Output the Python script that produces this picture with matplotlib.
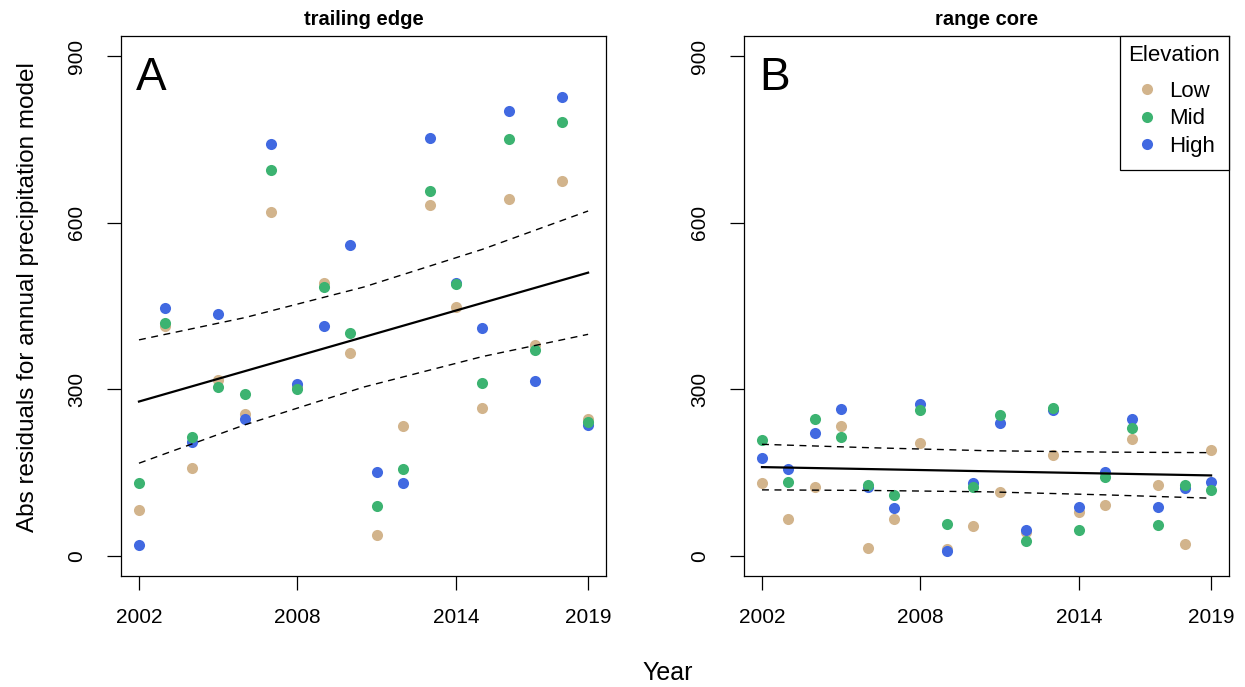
import numpy as np
import matplotlib
matplotlib.use("Agg")
import matplotlib.pyplot as plt
from matplotlib.lines import Line2D

plt.rcParams['font.family'] = ['Liberation Sans', 'DejaVu Sans']

years = np.arange(2002, 2020)

# abs residuals, trailing edge sites
te_low = [82, 414, 159, 316, 255, 619, 305, 492, 366, 38, 234, 632, 448, 266, 642, 379, 675, 246]
te_mid = [131, 420, 214, 304, 292, 695, 300, 484, 401, 90, 157, 657, 490, 312, 751, 370, 782, 241]
te_high = [20, 446, 205, 436, 246, 742, 310, 414, 559, 152, 131, 752, 491, 410, 801, 315, 827, 235]

# abs residuals, range core sites
rc_low = [132, 66, 124, 234, 15, 67, 204, 12, 54, 116, 44, 181, 79, 92, 210, 127, 22, 190]
rc_mid = [208, 133, 247, 215, 127, 110, 262, 58, 124, 254, 27, 266, 47, 142, 231, 55, 127, 119]
rc_high = [177, 157, 222, 265, 124, 87, 274, 9, 131, 239, 47, 263, 88, 152, 246, 88, 122, 133]

# fitted trend and 95% band
fit_years = [2002, 2006, 2010.5, 2015, 2019]
te_fit = [278, 332.6, 394, 455.5, 510]
te_hi = [389, 429, 484, 552, 621]
te_lo = [167, 236, 304, 359, 399]
rc_fit = [160, 156.5, 152.5, 148.5, 145]
rc_hi = [201, 195, 189.5, 187, 186]
rc_lo = [119, 118, 115.5, 110, 104]

col_low = '#D2B48C'
col_mid = '#3CB371'
col_high = '#4169E1'

fig = plt.figure(figsize=(12.45, 6.87), dpi=100)
ax1 = fig.add_axes([0.0972, 0.1616, 0.3896, 0.786])
ax2 = fig.add_axes([0.5976, 0.1616, 0.3896, 0.786])


def panel(ax, low, mid, high, fit, lo, hi, title, letter):
    ms = 8
    ax.plot(years, low, 'o', color=col_low, ms=ms, mec='none', zorder=3)
    ax.plot(years, high, 'o', color=col_high, ms=ms, mec='none', zorder=3)
    ax.plot(years, mid, 'o', color=col_mid, ms=ms, mec='none', zorder=3)
    ax.plot(fit_years, fit, color='black', lw=1.6, zorder=4)
    ax.plot(fit_years, hi, color='black', lw=1.0, ls=(0, (5, 4)), zorder=4)
    ax.plot(fit_years, lo, color='black', lw=1.0, ls=(0, (5, 4)), zorder=4)
    ax.set_xlim(2001.32, 2019.68)
    ax.set_ylim(-36, 936)
    ax.set_xticks([2002, 2008, 2014, 2019])
    ax.set_yticks([0, 300, 600, 900])
    ax.tick_params(direction='out', length=10, width=0.9, labelsize=15, pad=13)
    ax.tick_params(axis='y', labelrotation=90, pad=15)
    for t in ax.get_yticklabels():
        t.set_va('center')
    for s in ax.spines.values():
        s.set_linewidth(0.9)
    ax.set_title(title, fontsize=14.5, fontweight='bold', pad=8)
    ax.text(0.031, 0.9, letter, transform=ax.transAxes, fontsize=33,
            ha='left', va='baseline')


panel(ax1, te_low, te_mid, te_high, te_fit, te_lo, te_hi, 'trailing edge', 'A')
panel(ax2, rc_low, rc_mid, rc_high, rc_fit, rc_lo, rc_hi, 'range core', 'B')

handles = [Line2D([], [], ls='none', marker='o', color=c, ms=8, mec='none')
           for c in (col_low, col_mid, col_high)]
leg = ax2.legend(handles, ['Low', 'Mid', 'High'], title='Elevation',
                 loc='upper right', borderaxespad=0, fancybox=False,
                 edgecolor='black', framealpha=1, fontsize=16, title_fontsize=16,
                 labelspacing=0.28, handletextpad=0.4, handlelength=1.2,
                 borderpad=0.4)
leg.get_frame().set_linewidth(0.9)
# more room around the entries than around the title
leg._legend_box.sep = 8
leg._legend_handle_box.pad = 3

fig.text(0.0225, 0.568, 'Abs residuals for annual precipitation model',
         rotation=90, fontsize=17.5, ha='center', va='center')
fig.text(0.5365, 0.0204, 'Year', fontsize=18, ha='center', va='center')

fig.savefig('out.png', dpi=100)
